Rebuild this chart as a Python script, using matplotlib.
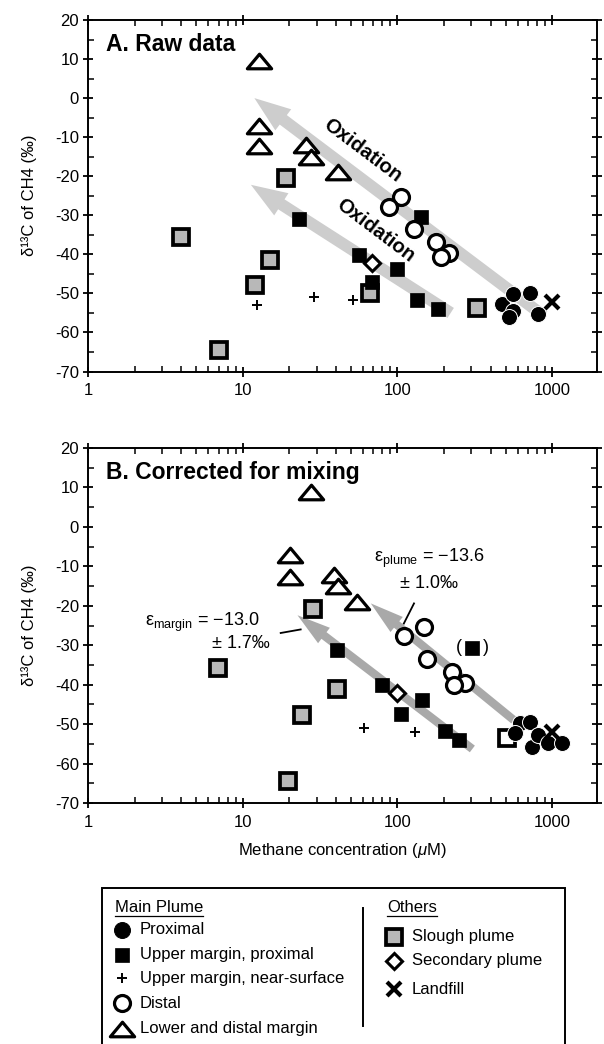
import matplotlib
matplotlib.use('Agg')
import matplotlib.pyplot as plt
from matplotlib.path import Path
from matplotlib.lines import Line2D
from matplotlib.patches import Rectangle
from matplotlib.ticker import MultipleLocator, FixedLocator, NullFormatter

plt.rcParams['font.family'] = ['Liberation Sans', 'DejaVu Sans']
plt.rcParams['axes.unicode_minus'] = False
plt.rcParams['mathtext.fontset'] = 'custom'
plt.rcParams['mathtext.rm'] = 'Liberation Sans'
plt.rcParams['mathtext.it'] = 'Liberation Sans:italic'

# ---------------- Panel A: raw data ----------------
a_prox_x = [473, 562, 562, 530, 721, 815]
a_prox_y = [-52.6, -50.1, -54.4, -56.1, -49.9, -55.2]
a_upm_x = [23.2, 141, 56.6, 69, 100, 134.6, 183]
a_upm_y = [-30.9, -30.5, -40.2, -47.0, -43.8, -51.8, -54.0]
a_surf_x = [12.4, 28.7, 52]
a_surf_y = [-53.0, -50.8, -51.7]
a_dist_x = [105, 88.3, 128, 177, 215, 190]
a_dist_y = [-25.4, -27.8, -33.6, -36.9, -39.7, -40.6]
a_low_x = [12.8, 12.8, 12.8, 25.6, 27.6, 41]
a_low_y = [9.5, -7.1, -12.3, -12.1, -15.2, -19.0]
a_slough_x = [4.0, 7.0, 12.0, 15.1, 19.0, 66.6, 328]
a_slough_y = [-35.5, -64.5, -47.8, -41.4, -20.5, -50.0, -53.8]
a_sec_x = [69]
a_sec_y = [-42.3]
a_land_x = [995]
a_land_y = [-52.2]
# oxidation arrows (tail -> head)
a_arrow_tail = [(884, -55.8), (221, -55.0)]
a_arrow_head = [(11.9, 0.0), (11.3, -22.2)]

# ---------------- Panel B: corrected for mixing ----------------
b_prox_x = [621, 721, 577, 739, 815, 946, 1156]
b_prox_y = [-49.8, -49.4, -52.3, -55.7, -52.8, -54.9, -54.9]
b_upm_x = [40.4, 80, 105, 143.6, 202, 250]
b_upm_y = [-31.3, -40.2, -47.4, -43.8, -51.8, -54.0]
b_upm_paren_x = [305]
b_upm_paren_y = [-30.6]
b_surf_x = [60.4, 130]
b_surf_y = [-51.0, -52.0]
b_dist_x = [148.6, 110, 156, 224, 273, 232]
b_dist_y = [-25.3, -27.7, -33.4, -36.8, -39.5, -40.2]
b_low_x = [27.6, 20.2, 20.2, 39, 41, 54.7]
b_low_y = [8.8, -7.1, -12.6, -12.1, -15.1, -19.0]
b_slough_x = [6.9, 19.7, 24.1, 40.6, 28.3]
b_slough_y = [-35.7, -64.3, -47.8, -41.0, -20.7]
b_open_sq_x = [509]
b_open_sq_y = [-53.4]
b_sec_x = [100]
b_sec_y = [-42.0]
b_land_x = [995]
b_land_y = [-51.9]
b_arrow_tail = [(566, -49.0), (305, -56.3)]
b_arrow_head = [(67.3, -19.4), (22.6, -22.4)]

xticks = [1, 10, 100, 1000]
xticklabels = ['1', '10', '100', '1000']
yticks = [20, 10, 0, -10, -20, -30, -40, -50, -60, -70]

W, H = 604, 1044
fig = plt.figure(figsize=(W / 100, H / 100), dpi=100)

tri = Path([(0, 0.6), (-1, -0.6), (1, -0.6), (0, 0.6)],
           [Path.MOVETO, Path.LINETO, Path.LINETO, Path.CLOSEPOLY])

STY = {
    'prox': dict(marker='o', ms=11.5, mfc='black', mec='white', mew=0.7),
    'upm': dict(marker='s', ms=10.5, mfc='black', mec='black', mew=0.5),
    'surf': dict(marker='+', ms=7, mfc='black', mec='black', mew=1.4),
    'dist': dict(marker='o', ms=11.5, mfc='white', mec='black', mew=2.3),
    'low': dict(marker=tri, ms=17.5, mfc='white', mec='black', mew=2.3),
    'slough': dict(marker='s', ms=11.5, mfc='#b8b8b8', mec='black', mew=2.7),
    'open_sq': dict(marker='s', ms=11.5, mfc='white', mec='black', mew=2.7),
    'sec': dict(marker='D', ms=8.5, mfc='white', mec='black', mew=2.2),
    'land': dict(marker='x', ms=10, mfc='black', mec='black', mew=3),
}


def pts(ax, x, y, key, z=4):
    ax.plot(x, y, ls='none', zorder=z, **STY[key])


def arrows(ax, tails, heads, color, tw, hw, hl):
    for t, h in zip(tails, heads):
        ax.annotate('', xy=h, xytext=t,
                    arrowprops=dict(arrowstyle=f'simple,head_length={hl},head_width={hw},tail_width={tw}',
                                    mutation_scale=10, fc=color, ec='none',
                                    shrinkA=0, shrinkB=0), zorder=2)


def style_axes(ax):
    ax.set_xscale('log')
    ax.set_xlim(1, 1950)
    ax.set_ylim(-70, 20)
    ax.xaxis.set_major_locator(FixedLocator(xticks))
    ax.set_xticklabels(xticklabels)
    ax.xaxis.set_minor_formatter(NullFormatter())
    ax.set_yticks(yticks)
    ax.yaxis.set_minor_locator(MultipleLocator(5))
    ax.tick_params(axis='both', which='major', direction='inout', length=7, width=1.3,
                   labelsize=12, top=True, right=True)
    ax.tick_params(axis='both', which='minor', direction='in', length=4, width=1.1,
                   top=True, right=True)
    ax.tick_params(axis='x', which='major', pad=5)
    ax.tick_params(axis='y', which='major', pad=3)
    for s in ax.spines.values():
        s.set_linewidth(1.4)
    ax.set_ylabel('δ¹³C of CH4 (‰)', fontsize=12, labelpad=13)


def fx(px):
    return px / W


def fy(py):
    return 1 - py / H


axA = fig.add_axes([fx(88), fy(371.5), fx(597) - fx(88), fy(20) - fy(371.5)])
axB = fig.add_axes([fx(88), fy(803), fx(597) - fx(88), fy(448) - fy(803)])

# Panel A
style_axes(axA)
arrows(axA, a_arrow_tail, a_arrow_head, '#cdcdcd', 0.85, 1.9, 2.6)
pts(axA, a_slough_x, a_slough_y, 'slough')
pts(axA, a_upm_x, a_upm_y, 'upm')
pts(axA, a_surf_x, a_surf_y, 'surf')
pts(axA, a_dist_x, a_dist_y, 'dist')
pts(axA, a_low_x, a_low_y, 'low')
pts(axA, a_sec_x, a_sec_y, 'sec')
pts(axA, a_prox_x, a_prox_y, 'prox', z=5)
pts(axA, a_land_x, a_land_y, 'land', z=6)
axA.text(0.035, 0.93, 'A. Raw data', transform=axA.transAxes, fontsize=16.5,
         fontweight='bold', ha='left', va='center')
axA.text(59.5, -13.3, 'Oxidation', rotation=-37, fontsize=14.5, fontweight='bold',
         ha='center', va='center', rotation_mode='anchor', zorder=3)
axA.text(72.5, -33.8, 'Oxidation', rotation=-37, fontsize=14.5, fontweight='bold',
         ha='center', va='center', rotation_mode='anchor', zorder=3)

# Panel B
style_axes(axB)
arrows(axB, b_arrow_tail, b_arrow_head, '#a9a9a9', 0.6, 1.4, 2.4)
pts(axB, b_slough_x, b_slough_y, 'slough')
pts(axB, b_open_sq_x, b_open_sq_y, 'open_sq')
pts(axB, b_upm_x, b_upm_y, 'upm')
pts(axB, b_upm_paren_x, b_upm_paren_y, 'upm')
pts(axB, b_surf_x, b_surf_y, 'surf')
pts(axB, b_dist_x, b_dist_y, 'dist')
pts(axB, b_low_x, b_low_y, 'low')
pts(axB, b_sec_x, b_sec_y, 'sec')
pts(axB, b_prox_x, b_prox_y, 'prox', z=5)
pts(axB, b_land_x, b_land_y, 'land', z=6)
axB.text(250, -30.6, '(', fontsize=13, ha='center', va='center')
axB.text(375, -30.6, ')', fontsize=13, ha='center', va='center')
axB.text(0.035, 0.93, 'B. Corrected for mixing', transform=axB.transAxes, fontsize=16.5,
         fontweight='bold', ha='left', va='center')
axB.text(160, -8.0, 'ε$_{\\mathrm{plume}}$ = −13.6', fontsize=13, ha='center', va='center')
axB.text(160, -14.3, '± 1.0‰', fontsize=13, ha='center', va='center')
axB.plot([128, 110], [-19.4, -24.5], color='black', lw=1.3)
axB.text(5.52, -24.3, 'ε$_{\\mathrm{margin}}$ = −13.0', fontsize=13, ha='center', va='center')
axB.text(9.76, -29.6, '± 1.7‰', fontsize=13, ha='center', va='center')
axB.plot([17.6, 23.7], [-26.9, -26.0], color='black', lw=1.3)
axB.set_xlabel('Methane concentration ($\\mu$M)', fontsize=12, labelpad=8)

# ---------------- Legend box ----------------
fig.add_artist(Rectangle((fx(101.7), fy(1050)), fx(565) - fx(101.7), fy(888) - fy(1050),
                         transform=fig.transFigure, fill=False, lw=1.4, ec='black'))
fig.add_artist(Line2D([fx(363), fx(363)], [fy(908), fy(1026)], transform=fig.transFigure,
                      color='black', lw=1.4))

left_labels = ['Proximal', 'Upper margin, proximal', 'Upper margin, near-surface',
               'Distal', 'Lower and distal margin']
left_keys = ['prox', 'upm', 'surf', 'dist', 'low']
left_rows = [930, 955, 978, 1003, 1029]
right_labels = ['Slough plume', 'Secondary plume', 'Landfill']
right_keys = ['slough', 'sec', 'land']
right_rows = [937, 961, 989]

fig.text(fx(115), fy(908), 'Main Plume', fontsize=12, ha='left', va='center')
fig.add_artist(Line2D([fx(115), fx(203)], [fy(916), fy(916)], transform=fig.transFigure,
                      color='black', lw=0.9))
fig.text(fx(387), fy(908), 'Others', fontsize=12, ha='left', va='center')
fig.add_artist(Line2D([fx(387), fx(437)], [fy(916), fy(916)], transform=fig.transFigure,
                      color='black', lw=0.9))

for lab, key, row in zip(left_labels, left_keys, left_rows):
    st = dict(STY[key])
    if key == 'prox':
        st['mec'] = 'black'
    fig.add_artist(Line2D([fx(122)], [fy(row)], transform=fig.transFigure, ls='none', **st))
    fig.text(fx(140), fy(row), lab, fontsize=12, ha='left', va='center')

for lab, key, row in zip(right_labels, right_keys, right_rows):
    fig.add_artist(Line2D([fx(394)], [fy(row)], transform=fig.transFigure, ls='none', **STY[key]))
    fig.text(fx(412), fy(row), lab, fontsize=12, ha='left', va='center')

fig.savefig('out.png', dpi=100)
